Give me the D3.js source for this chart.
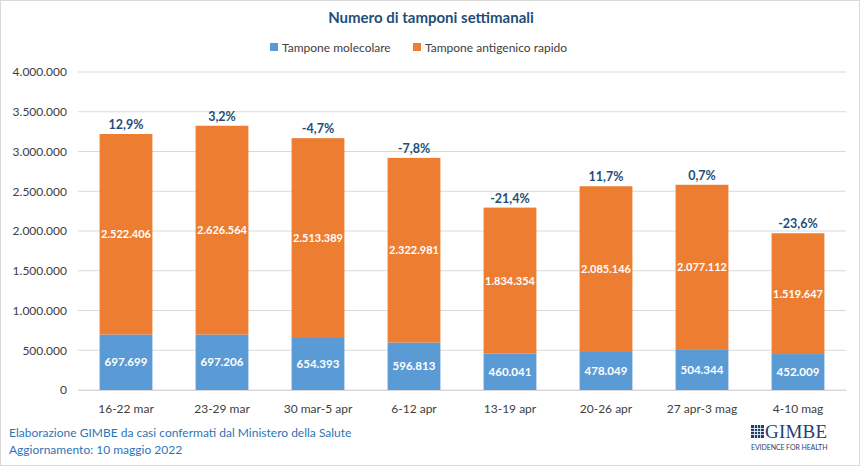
<!DOCTYPE html>
<html><head><meta charset="utf-8">
<script src="https://cdn.jsdelivr.net/npm/d3@7"></script>
<style>body{margin:0;background:#fff;}svg{display:block;font-family:Lato,"Open Sans",sans-serif;}</style>
</head><body>
<svg id="c" width="860" height="466"></svg>
<script>
const categories = ["16-22 mar","23-29 mar","30 mar-5 apr","6-12 apr","13-19 apr","20-26 apr","27 apr-3 mag","4-10 mag"];
const molecolare = [697699,697206,654393,596813,460041,478049,504344,452009];
const antigenico = [2522406,2626564,2513389,2322981,1834354,2085146,2077112,1519647];
const variazione = ["12,9%","3,2%","-4,7%","-7,8%","-21,4%","11,7%","0,7%","-23,6%"];
const yTicks = [0,500000,1000000,1500000,2000000,2500000,3000000,3500000,4000000];
const seriesNames = ["Tampone molecolare","Tampone antigenico rapido"];
const colors = ["#5B9BD5","#ED7D31"];

const svg = d3.select("#c");
const W=860,H=466;
svg.append("rect").attr("x",0.5).attr("y",0.5).attr("width",W-1).attr("height",H-1).attr("fill","#fff").attr("stroke","#d9d9d9");

const fmt = v => d3.format(",")(v).replace(/,/g,".");
const x = d3.scaleBand().domain(categories).range([78,846]).paddingInner(0.45).paddingOuter(0.225);
const y = d3.scaleLinear().domain([0,4000000]).range([390,72]);
const FF = "Lato,'Open Sans',sans-serif";

// grid
svg.append("g").selectAll("line").data(yTicks).join("line")
  .attr("x1",78).attr("x2",846).attr("y1",d=>y(d)).attr("y2",d=>y(d))
  .attr("stroke","#d9d9d9").attr("stroke-width",1);

// y axis
const ya = svg.append("g").attr("transform","translate(78,0)")
  .call(d3.axisLeft(y).tickValues(yTicks).tickSize(0).tickPadding(11).tickFormat(fmt));
ya.select(".domain").remove();
ya.selectAll("text").attr("font-size",12).attr("fill","#404040").attr("font-family",FF);

// x axis
const xa = svg.append("g").attr("transform","translate(0,390)")
  .call(d3.axisBottom(x).tickSize(0).tickPadding(14));
xa.select(".domain").attr("stroke","#d9d9d9");
xa.selectAll("text").attr("font-size",12).attr("fill","#404040").attr("font-family",FF);

const data = categories.map((c,i)=>({c,m:molecolare[i],a:antigenico[i],p:variazione[i]}));
const g = svg.append("g");
g.selectAll(".bm").data(data).join("rect")
  .attr("x",d=>x(d.c)).attr("width",x.bandwidth())
  .attr("y",d=>y(d.m)).attr("height",d=>y(0)-y(d.m)).attr("fill",colors[0]);
g.selectAll(".ba").data(data).join("rect")
  .attr("x",d=>x(d.c)).attr("width",x.bandwidth())
  .attr("y",d=>y(d.m+d.a)).attr("height",d=>y(d.m)-y(d.m+d.a)).attr("fill",colors[1]);

g.selectAll(".lm").data(data).join("text")
  .attr("x",d=>x(d.c)+x.bandwidth()/2).attr("y",d=>(y(0)+y(d.m))/2+4)
  .attr("text-anchor","middle").attr("font-size",11.5).attr("font-weight","bold").attr("fill","#fff")
  .text(d=>fmt(d.m));
g.selectAll(".la").data(data).join("text")
  .attr("x",d=>x(d.c)+x.bandwidth()/2).attr("y",d=>(y(d.m)+y(d.m+d.a))/2+4)
  .attr("text-anchor","middle").attr("font-size",11).attr("font-weight","bold").attr("fill","#fff")
  .text(d=>fmt(d.a));
g.selectAll(".lp").data(data).join("text")
  .attr("x",d=>x(d.c)+x.bandwidth()/2).attr("y",d=>y(d.m+d.a)-5)
  .attr("text-anchor","middle").attr("font-size",12.5).attr("font-weight","bold").attr("fill","#1F4E79")
  .text(d=>d.p);

// title
svg.append("text").attr("x",431).attr("y",23).attr("text-anchor","middle")
  .attr("font-size",15).attr("font-weight","bold").attr("fill","#1F4E79").text("Numero di tamponi settimanali");

// legend
const leg = [{x:270},{x:413}];
seriesNames.forEach((n,i)=>{
  svg.append("rect").attr("x",leg[i].x).attr("y",43).attr("width",8).attr("height",8).attr("fill",colors[i]);
  svg.append("text").attr("x",leg[i].x+12).attr("y",51.5).attr("font-size",12).attr("fill","#404040").text(n);
});

// footer
svg.append("text").attr("x",9).attr("y",437).attr("font-size",12).attr("fill","#2E75B6")
  .text("Elaborazione GIMBE da casi confermati dal Ministero della Salute");
svg.append("text").attr("x",9).attr("y",454).attr("font-size",12).attr("fill","#2E75B6")
  .text("Aggiornamento: 10 maggio 2022");

// logo
const lg = svg.append("g").attr("transform","translate(751,425)");
lg.append("rect").attr("x",0).attr("y",0).attr("width",13).attr("height",13).attr("fill","#1F3F73");
[3.5,6.5,9.5].forEach(v=>{
  lg.append("line").attr("x1",v).attr("x2",v).attr("y1",0).attr("y2",13).attr("stroke","#fff").attr("stroke-width",0.8);
  lg.append("line").attr("y1",v).attr("y2",v).attr("x1",0).attr("x2",13).attr("stroke","#fff").attr("stroke-width",0.8);
});
lg.append("text").attr("x",14).attr("y",13).attr("font-family","'Liberation Serif','DejaVu Serif',serif")
  .attr("font-size",19).attr("fill","#1F3F73").attr("textLength",62).text("GIMBE");
lg.append("text").attr("x",0).attr("y",25).attr("font-size",7).attr("fill","#1F3F73")
  .attr("textLength",77).attr("letter-spacing",0.5).text("EVIDENCE FOR HEALTH");
</script>
</body></html>
